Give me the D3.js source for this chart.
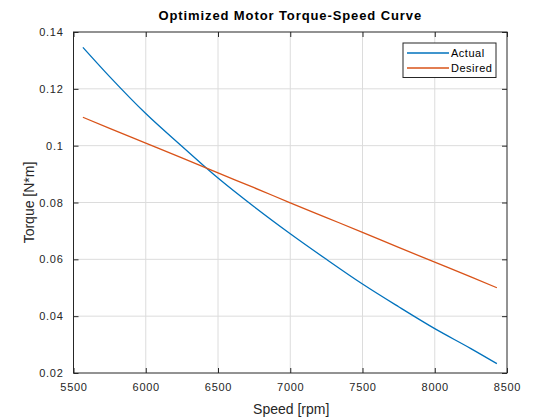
<!DOCTYPE html>
<html>
<head>
<meta charset="utf-8">
<script src="https://cdn.jsdelivr.net/npm/d3@7"></script>
<style>
  body { margin: 0; background: #fff; }
  svg { display: block; font-family: "Liberation Sans", Arial, sans-serif; }
</style>
</head>
<body>
<div id="chart"></div>
<script>
const speed = [5565, 5750, 6000, 6250, 6500, 6750, 7000, 7250, 7500, 7750, 8000, 8250, 8430]
const actual = [0.1346, 0.1243, 0.1113, 0.0998, 0.0886, 0.0785, 0.0690, 0.0600, 0.0513, 0.0433, 0.0356, 0.0286, 0.0233]
const desired = [0.1100, 0.1061, 0.1009, 0.0957, 0.0904, 0.0852, 0.0799, 0.0747, 0.0695, 0.0642, 0.0590, 0.0538, 0.0500]
const xTicks = [5500, 6000, 6500, 7000, 7500, 8000, 8500]
const yTicks = [0.02, 0.04, 0.06, 0.08, 0.1, 0.12, 0.14]
const seriesNames = ['Actual', 'Desired']
const colors = ['#0072BD', '#D95319']

const width = 560, height = 420
const margin = ({ top: 32, right: 53, bottom: 47, left: 73.5 })

const svg = d3.select('#chart')
    .append('svg')
    .attr('width', width)
    .attr('height', height)

const x = d3.scaleLinear()
    .domain([5500, 8500])
    .range([margin.left, width - margin.right])
const y = d3.scaleLinear()
    .domain([0.02, 0.14])
    .range([height - margin.bottom, margin.top])

// grid
svg.append('g')
    .selectAll('line')
    .data(xTicks.slice(1, -1))
    .join('line')
    .attr('x1', d => x(d)).attr('x2', d => x(d))
    .attr('y1', y.range()[1]).attr('y2', y.range()[0])
    .attr('stroke', '#dcdcdc')
svg.append('g')
    .selectAll('line')
    .data(yTicks.slice(1, -1))
    .join('line')
    .attr('y1', d => y(d)).attr('y2', d => y(d))
    .attr('x1', x.range()[0]).attr('x2', x.range()[1])
    .attr('stroke', '#dcdcdc')

// lines
const line = d3.line()
    .x((d, i) => x(speed[i]))
    .y(d => y(d))
    .curve(d3.curveMonotoneX)

;[actual, desired].forEach((s, i) => {
    svg.append('path')
        .datum(s)
        .attr('fill', 'none')
        .attr('stroke', colors[i])
        .attr('stroke-width', 1.3)
        .attr('stroke-linejoin', 'round')
        .attr('d', line)
})

// axes, ticks inside on all four sides
const fmtY = d => d3.format('.2~f')(d)
const styleAxis = g => {
    g.select('.domain').remove()
    g.selectAll('.tick line').attr('stroke', '#262626')
    g.selectAll('.tick text')
        .attr('fill', '#262626')
        .attr('font-size', 11)
        .attr('letter-spacing', 0.7)
}
svg.append('g')
    .attr('transform', `translate(0,${y.range()[0]})`)
    .call(d3.axisBottom(x).tickValues(xTicks).tickSizeInner(-5).tickSizeOuter(0).tickPadding(10).tickFormat(d3.format('d')))
    .call(styleAxis)
svg.append('g')
    .attr('transform', `translate(0,${y.range()[1]})`)
    .call(d3.axisTop(x).tickValues(xTicks).tickSizeInner(-5).tickSizeOuter(0).tickFormat(''))
    .call(styleAxis)
svg.append('g')
    .attr('transform', `translate(${x.range()[0]},0)`)
    .call(d3.axisLeft(y).tickValues(yTicks).tickSizeInner(-5).tickSizeOuter(0).tickPadding(10).tickFormat(fmtY))
    .call(styleAxis)
svg.append('g')
    .attr('transform', `translate(${x.range()[1]},0)`)
    .call(d3.axisRight(y).tickValues(yTicks).tickSizeInner(-5).tickSizeOuter(0).tickFormat(''))
    .call(styleAxis)

svg.append('rect')
    .attr('x', x.range()[0]).attr('y', y.range()[1])
    .attr('width', x.range()[1] - x.range()[0])
    .attr('height', y.range()[0] - y.range()[1])
    .attr('fill', 'none')
    .attr('stroke', '#262626')

// labels
svg.append('text')
    .attr('x', (x.range()[0] + x.range()[1]) / 2)
    .attr('y', 20)
    .attr('text-anchor', 'middle')
    .attr('font-size', 13)
    .attr('font-weight', 'bold')
    .attr('letter-spacing', 0.9)
    .attr('fill', '#000')
    .text('Optimized Motor Torque-Speed Curve')
svg.append('text')
    .attr('x', (x.range()[0] + x.range()[1]) / 2 + 1)
    .attr('y', 414)
    .attr('text-anchor', 'middle')
    .attr('font-size', 14)
    .attr('fill', '#262626')
    .text('Speed [rpm]')
svg.append('text')
    .attr('transform', `translate(34,${(y.range()[0] + y.range()[1]) / 2}) rotate(-90)`)
    .attr('text-anchor', 'middle')
    .attr('font-size', 14)
    .attr('fill', '#262626')
    .text('Torque [N*m]')

// legend
const legend = svg.append('g').attr('transform', 'translate(403,43)')
legend.append('rect')
    .attr('width', 93).attr('height', 34.5)
    .attr('fill', '#fff')
    .attr('stroke', '#262626')
seriesNames.forEach((name, i) => {
    const row = legend.append('g').attr('transform', `translate(0,${10 + i * 15})`)
    row.append('line')
        .attr('x1', 4).attr('x2', 46)
        .attr('stroke', colors[i]).attr('stroke-width', 1.3)
    row.append('text')
        .attr('x', 48).attr('dy', '0.35em')
        .attr('font-size', 11)
        .attr('letter-spacing', 0.5)
        .attr('fill', '#000')
        .text(name)
})
</script>
</body>
</html>
